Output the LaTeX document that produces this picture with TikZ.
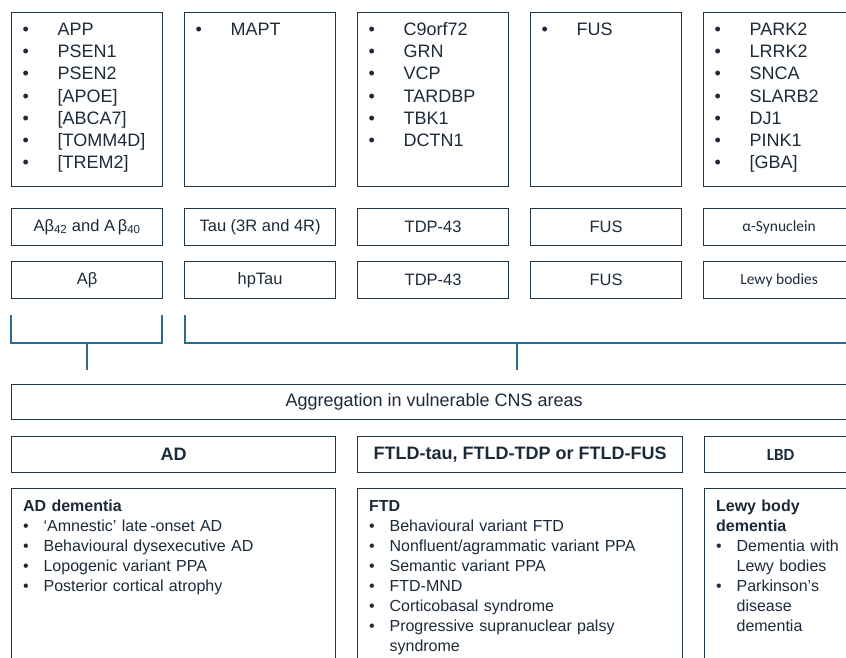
\documentclass[tikz,border=0pt]{standalone}
\usepackage{fontspec}
\setmainfont{Liberation Sans}
\newfontfamily\calfont{Carlito}
\newcommand{\calsmall}{\calfont\fontsize{15.5}{18}\selectfont}
\newcommand{\gb}{\makebox[35pt][l]{\textbullet}}
\newcommand{\db}{\makebox[20.5pt][l]{\textbullet}}
\newcommand{\dc}{\hspace*{20.5pt}}
\begin{document}
\begin{tikzpicture}[x=1pt,y=-1pt, every node/.style={text=ocText, inner sep=0pt},
  genebox/.style={draw=ocLine, line width=1.2pt, anchor=north west, inner xsep=11pt, text width=129pt,
    align=left, text height=22.5pt, text depth=151.5pt, font=\fontsize{18}{22.3}\selectfont},
  protbox/.style={draw=ocLine, line width=1.2pt, anchor=north west, minimum width=151pt,
    minimum height=37pt, font=\fontsize{16.5}{20}\selectfont},
  disbox/.style={draw=ocLine, line width=1.2pt, anchor=north west, minimum height=36pt,
    font=\fontsize{18}{22}\selectfont\bfseries},
  symbox/.style={draw=ocLine, line width=1.2pt, anchor=north west, inner xsep=11.5pt, align=left,
    text height=23pt, text depth=177pt, font=\fontsize{16}{20}\selectfont},
  bracket/.style={draw=ocBracket, line width=2pt}]
  \definecolor{ocText}{HTML}{1C2A3A}
  \definecolor{ocLine}{HTML}{1F3646}
  \definecolor{ocBracket}{HTML}{2C6B8E}
  \useasboundingbox (0,0) rectangle (846,657);
  \clip (0,0) rectangle (846,657);
  % genes
  \foreach \i/\genes in {
    0/{\gb APP\\\gb PSEN1\\\gb PSEN2\\\gb [APOE]\\\gb [ABCA7]\\\gb [TOMM4D]\\\gb [TREM2]},
    1/{\gb MAPT},
    2/{\gb C9orf72\\\gb GRN\\\gb VCP\\\gb TARDBP\\\gb TBK1\\\gb DCTN1},
    3/{\gb FUS},
    4/{\gb PARK2\\\gb LRRK2\\\gb SNCA\\\gb SLARB2\\\gb DJ1\\\gb PINK1\\\gb [GBA]}
  }{
    \pgfmathsetmacro{\x}{11+173*\i}
    \node[genebox] (g\i) at (\x,12) {\genes};
  }
  % proteins and aggregates
  \foreach \i/\prot/\aggr in {
    0/{Aβ\textsubscript{42} and A\,β\textsubscript{40}}/{Aβ},
    1/{Tau (3R and 4R)}/{hpTau},
    2/{TDP-43}/{TDP-43},
    3/{FUS}/{FUS},
    4/{\calsmall α-Synuclein}/{\calsmall Lewy bodies}
  }{
    \pgfmathsetmacro{\x}{11+173*\i}
    \node[protbox] (p\i) at (\x,208) {\prot};
    \node[protbox] (a\i) at (\x,261) {\aggr};
  }
  % brackets
  \coordinate (lbA) at (11,315);
  \coordinate (lbB) at (162,315);
  \coordinate (lbS) at (86.5,343);
  \coordinate (rbA) at (185,315);
  \coordinate (rbB) at (849,315);
  \coordinate (rbS) at (517,343);
  \draw[bracket] (lbA) -- ++(0,28) -| (lbB);
  \draw[bracket] (lbS) -- ++(0,27);
  \draw[bracket] (rbA) -- ++(0,28) -| (rbB);
  \draw[bracket] (rbS) -- ++(0,27);
  \node[draw=ocLine, line width=1.2pt, anchor=north west, minimum width=845pt, minimum height=35pt,
    font=\fontsize{18}{22}\selectfont] (agg) at (11,384) {Aggregation in vulnerable CNS areas};
  % diseases
  \node[disbox, minimum width=324pt] (dAD) at (11,436) {AD};
  \node[disbox, minimum width=325pt] (dFT) at (357,436) {FTLD-tau, FTLD-TDP or FTLD-FUS};
  \node[disbox, minimum width=152pt, font=\calfont\fontsize{17}{20}\selectfont\bfseries] (dLB) at (704,436) {LBD};
  % syndromes
  \node[symbox, text width=301pt] (sAD) at (11,488)
    {\textbf{AD dementia}\\\db ‘Amnestic’ late\,-onset AD\\\db Behavioural dysexecutive AD\\\db Lopogenic variant PPA\\\db Posterior cortical atrophy};
  \node[symbox, text width=302pt] (sFT) at (357,488)
    {\textbf{FTD}\\\db Behavioural variant FTD\\\db Nonfluent/agrammatic variant PPA\\\db Semantic variant PPA\\\db FTD-MND\\\db Corticobasal syndrome\\\db Progressive supranuclear palsy\\\dc syndrome};
  \node[symbox, text width=129pt] (sLB) at (704,488)
    {\textbf{Lewy body}\\\textbf{dementia}\\\db Dementia with\\\dc Lewy bodies\\\db Parkinson’s\\\dc disease\\\dc dementia};
\end{tikzpicture}
\end{document}
